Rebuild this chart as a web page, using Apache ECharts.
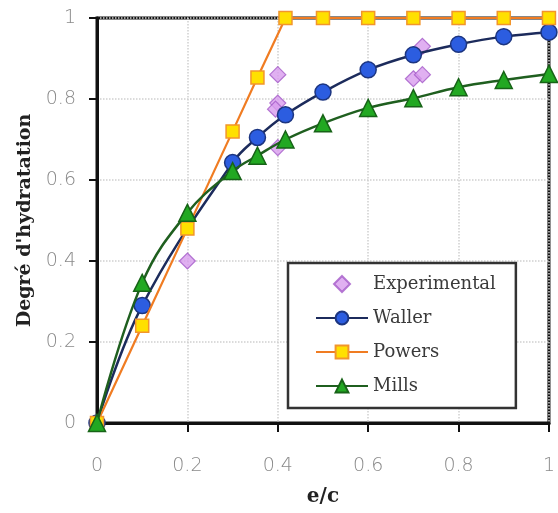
<!DOCTYPE html>
<html>
<head>
<meta charset="utf-8">
<script src="https://cdn.jsdelivr.net/npm/echarts@6/dist/echarts.min.js"></script>
<style>html,body{margin:0;padding:0;background:#fff}#c{width:558px;height:513px}</style>
</head>
<body>
<div id="c"></div>
<script>
var expX = [0.2, 0.4, 0.4, 0.395, 0.4, 0.72, 0.7, 0.72];
var expY = [0.40, 0.86, 0.79, 0.775, 0.68, 0.93, 0.85, 0.86];
var wallerX = [0, 0.1, 0.3, 0.355, 0.417, 0.5, 0.6, 0.7, 0.8, 0.9, 1];
var wallerY = [0, 0.29, 0.643, 0.705, 0.761, 0.817, 0.872, 0.909, 0.935, 0.954, 0.965];
var powersX = [0, 0.1, 0.2, 0.3, 0.355, 0.417, 0.5, 0.6, 0.7, 0.8, 0.9, 1];
var powersY = [0, 0.24, 0.48, 0.72, 0.853, 1, 1, 1, 1, 1, 1, 1];
var millsX = [0, 0.1, 0.2, 0.3, 0.355, 0.417, 0.5, 0.6, 0.7, 0.8, 0.9, 1];
var millsY = [0, 0.346, 0.519, 0.622, 0.66, 0.70, 0.74, 0.778, 0.802, 0.829, 0.847, 0.862];
var seriesNames = ['Experimental', 'Waller', 'Powers', 'Mills'];
var xTitle = 'e/c';
var yTitle = "Degré d'hydratation";

function pairs(xs, ys) { return xs.map(function (x, i) { return [x, ys[i]]; }); }

var diamondPath = 'path://M0,-10L10,0L0,10L-10,0Z';
var chart = echarts.init(document.getElementById('c'), null, {renderer: 'canvas'});
var tickFont = {fontFamily: 'DejaVu Sans', fontSize: 19, fontWeight: 200, color: '#8a8a8a'};
chart.setOption({
  animation: false,
  backgroundColor: '#fff',
  grid: {left: 97, right: 3, top: 18, bottom: 90, show: true, borderColor: '#111', borderWidth: 3, backgroundColor: 'transparent'},
  legend: {
    orient: 'vertical', left: 288, top: 263,
    padding: [12, 20, 13, 27],
    itemWidth: 52, itemHeight: 16, itemGap: 16,
    symbolKeepAspect: true,
    borderColor: '#333', borderWidth: 2.5, backgroundColor: '#fff',
    textStyle: {fontFamily: 'DejaVu Serif', fontSize: 18, color: '#3a3a3a'},
    data: [{name: seriesNames[0], icon: diamondPath}, seriesNames[1], seriesNames[2], seriesNames[3]]
  },
  xAxis: {
    type: 'value', min: 0, max: 1, interval: 0.2,
    name: xTitle, nameLocation: 'middle', nameGap: 64,
    nameTextStyle: {fontFamily: 'DejaVu Serif', fontWeight: 'bold', fontSize: 20, color: '#222'},
    axisLine: {lineStyle: {color: '#111', width: 3}},
    axisTick: {inside: false, length: 9, lineStyle: {color: '#111', width: 2}},
    axisLabel: Object.assign({margin: 34}, tickFont),
    splitLine: {show: true, lineStyle: {color: '#cfcfcf', type: 'dotted', width: 1.5}}
  },
  yAxis: {
    type: 'value', min: 0, max: 1, interval: 0.2,
    name: yTitle, nameLocation: 'middle', nameGap: 62,
    nameTextStyle: {fontFamily: 'DejaVu Serif', fontWeight: 'bold', fontSize: 19, color: '#222'},
    axisLine: {show: true, lineStyle: {color: '#111', width: 3}},
    axisTick: {show: true, inside: false, length: 8, lineStyle: {color: '#111', width: 2}},
    axisLabel: Object.assign({margin: 21}, tickFont),
    splitLine: {show: true, lineStyle: {color: '#cfcfcf', type: 'dotted', width: 1.5}}
  },
  series: [
    {
      name: seriesNames[0], type: 'scatter', data: pairs(expX, expY),
      symbol: diamondPath, symbolSize: 16, symbolKeepAspect: true, z: 2,
      itemStyle: {color: '#d89cee', borderColor: '#a45ac8', borderWidth: 1.2}
    },
    {
      name: seriesNames[1], type: 'line', data: pairs(wallerX, wallerY), clip: false,
      smooth: 0.4, symbol: 'circle', symbolSize: 16, showAllSymbol: true, z: 3,
      lineStyle: {color: '#1c2b5c', width: 2.5},
      itemStyle: {color: '#2c5de0', borderColor: '#1c3580', borderWidth: 1.5}
    },
    {
      name: seriesNames[2], type: 'line', data: pairs(powersX, powersY), clip: false,
      symbol: 'rect', symbolSize: 13, showAllSymbol: true, z: 4,
      lineStyle: {color: '#f07c22', width: 2.2},
      itemStyle: {color: '#ffe000', borderColor: '#f2952c', borderWidth: 1.5}
    },
    {
      name: seriesNames[3], type: 'line', data: pairs(millsX, millsY), clip: false,
      smooth: 0.4, symbol: 'triangle', symbolSize: 17, showAllSymbol: true, z: 5,
      lineStyle: {color: '#1f5f1f', width: 2.5},
      itemStyle: {color: '#22a822', borderColor: '#176317', borderWidth: 1.5}
    }
  ]
});
</script>
</body>
</html>
